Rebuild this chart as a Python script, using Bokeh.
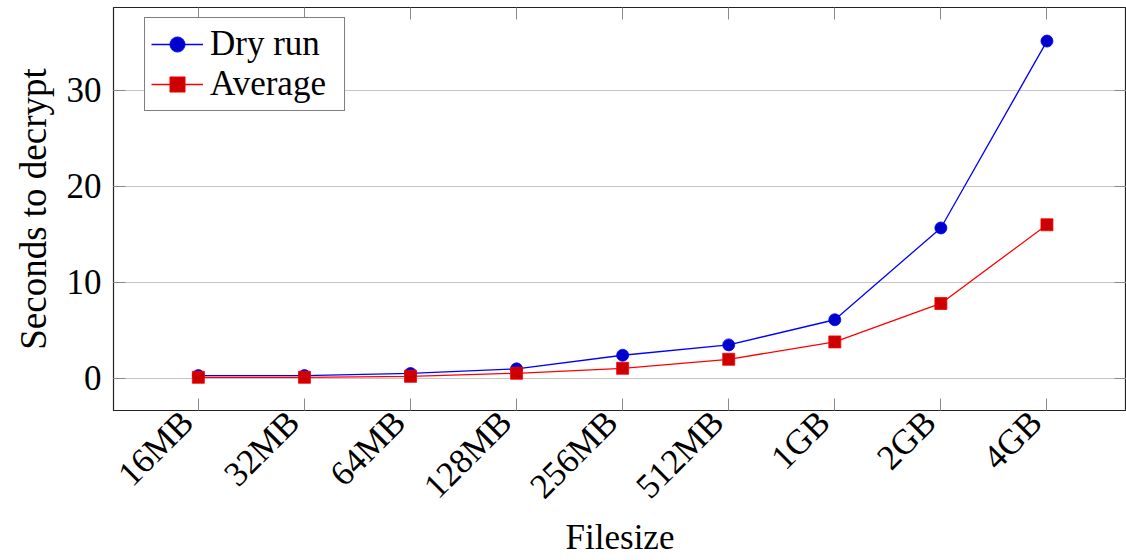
import math
from bokeh.plotting import figure
from bokeh.models import (FixedTicker, LinearAxis, Legend, LegendItem, Range1d)
from bokeh.embed import file_html
from bokeh.resources import INLINE

sizes = ["16MB", "32MB", "64MB", "128MB", "256MB", "512MB", "1GB", "2GB", "4GB"]
dry_run = [0.28, 0.28, 0.5, 0.98, 2.4, 3.48, 6.1, 15.67, 35.15]
average = [0.1, 0.1, 0.2, 0.52, 1.04, 1.98, 3.79, 7.8, 16.0]
y_ticks = [0, 10, 20, 30]

FONT = "Liberation Serif"
FS = "35px"

xs = list(range(len(sizes)))
X0, X1 = -0.8, 8.75
shift = 11 / (1013 / (X1 - X0))  # label anchor offset, in axis units

p = figure(width=1126, height=560, output_backend="svg", toolbar_location=None,
           x_range=Range1d(X0, X1), y_range=Range1d(-3.36, 38.65),
           min_border_left=113, min_border_top=7, min_border_right=0,
           min_border_bottom=150)
p.extra_x_ranges = {"lab": Range1d(X0 + shift, X1 + shift)}
p.background_fill_color = "white"
p.border_fill_color = "white"
p.outline_line_color = "#222222"
p.outline_line_width = 1.2

p.xgrid.grid_line_color = None
p.ygrid.grid_line_color = "#c4c4c4"
p.ygrid.grid_line_width = 1
p.ygrid.ticker = FixedTicker(ticks=y_ticks)

def tick_only(ax, ticks):
    ax.ticker = FixedTicker(ticks=ticks)
    ax.major_label_overrides = {t: "" for t in ticks}
    ax.axis_line_color = None
    ax.major_tick_in = 12
    ax.major_tick_out = 0
    ax.major_tick_line_color = "#8a8a8a"
    ax.major_tick_line_width = 1
    ax.minor_tick_line_color = None
    ax.major_label_text_font_size = "1px"
    ax.major_label_standoff = 0

# bottom tick marks
xa = p.xaxis[0]
tick_only(xa, xs)

# bottom tick labels (rotated) + axis title
xl = LinearAxis(x_range_name="lab", ticker=FixedTicker(ticks=xs))
xl.major_label_overrides = {i: s for i, s in enumerate(sizes)}
xl.major_label_orientation = math.pi / 4
xl.axis_line_color = None
xl.major_tick_line_color = None
xl.minor_tick_line_color = None
xl.major_tick_in = 0
xl.major_tick_out = 0
xl.major_label_standoff = 6
xl.axis_label = "Filesize"
xl.axis_label_standoff = -5
p.add_layout(xl, "below")

ya = p.yaxis[0]
ya.ticker = FixedTicker(ticks=y_ticks)
ya.axis_label = "Seconds to decrypt"
ya.axis_line_color = None
ya.major_tick_in = 12
ya.major_tick_out = 0
ya.major_tick_line_color = "#8a8a8a"
ya.major_tick_line_width = 1
ya.minor_tick_line_color = None
ya.major_label_standoff = 12
ya.axis_label_standoff = 10

for ax in (xl, ya):
    ax.major_label_text_font = FONT
    ax.major_label_text_font_size = FS
    ax.major_label_text_color = "black"
    ax.axis_label_text_font = FONT
    ax.axis_label_text_font_style = "normal"
    ax.axis_label_text_color = "black"
xl.axis_label_text_font_size = FS
ya.axis_label_text_font_size = "37px"

# top and right tick-only axes
top = LinearAxis()
right = LinearAxis()
tick_only(top, xs)
tick_only(right, y_ticks)
p.add_layout(top, "above")
p.add_layout(right, "right")

l1 = p.line(xs, dry_run, line_color="#0000ff", line_width=1.3)
s1 = p.scatter(xs, dry_run, marker="circle", size=12, fill_color="#0000cc",
               line_color="#0000ff", line_width=0.8)
l2 = p.line(xs, average, line_color="#ff0000", line_width=1.3)
s2 = p.scatter(xs, average, marker="square", size=12, fill_color="#cc0000",
               line_color="#ff0000", line_width=0.8)

legend = Legend(items=[LegendItem(label="Dry run", renderers=[l1, s1]),
                       LegendItem(label="Average", renderers=[l2, s2])],
                location=(31, 299))
legend.label_text_font = FONT
legend.label_text_font_size = FS
legend.label_text_color = "black"
legend.border_line_color = "black"
legend.border_line_width = 1.2
legend.background_fill_alpha = 1
legend.padding = 6
legend.spacing = 0
legend.margin = 0
legend.glyph_width = 52
legend.glyph_height = 38
legend.label_height = 38
legend.label_width = 128
legend.label_standoff = 7
p.add_layout(legend, "center")

open("out.html", "w").write(file_html(p, INLINE))
